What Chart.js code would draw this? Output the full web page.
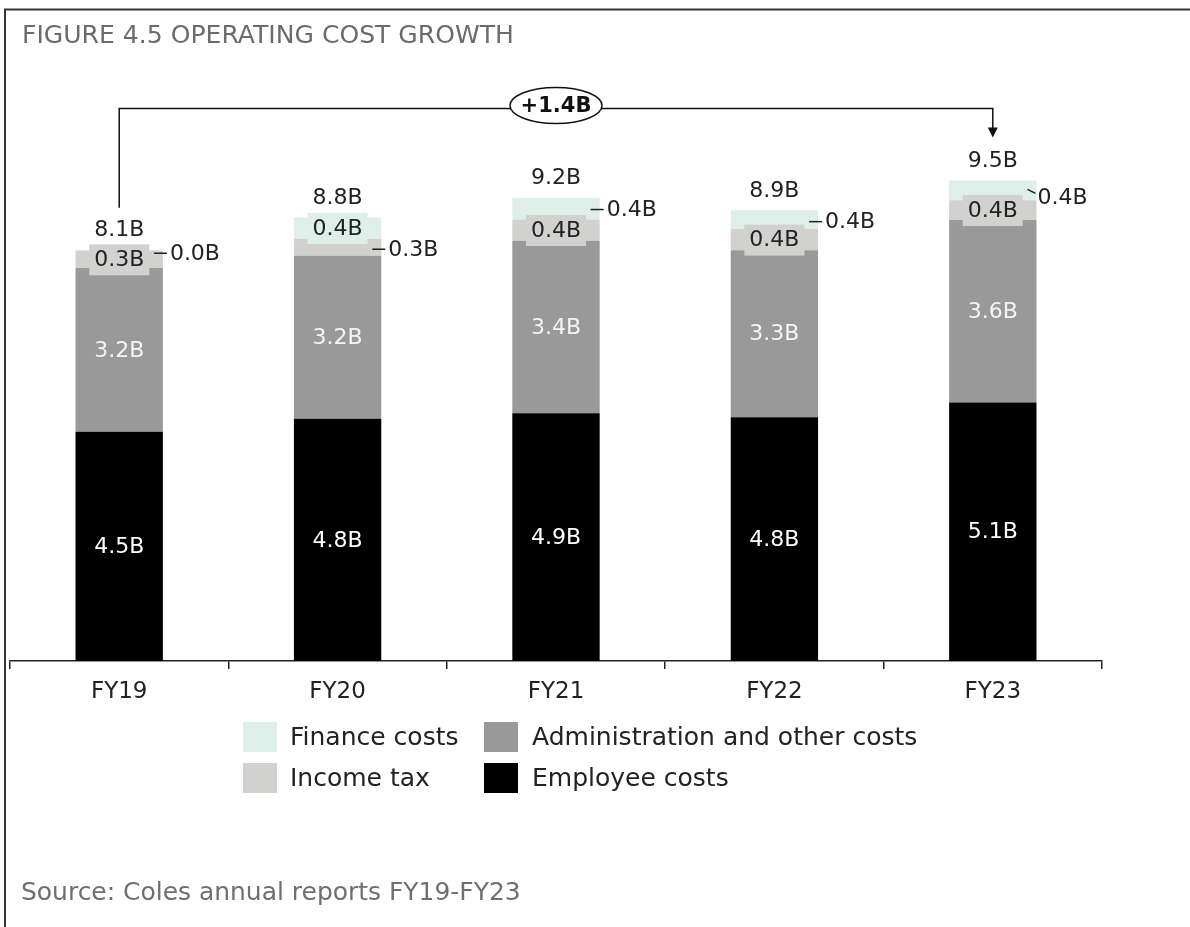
<!DOCTYPE html>
<html><head><meta charset="utf-8">
<script src="https://cdn.jsdelivr.net/npm/chart.js@4.4.0/dist/chart.umd.min.js"></script>
<style>html,body{margin:0;padding:0;background:#fff;overflow:hidden}#wrap{width:1190px;height:927px}</style>
</head><body><div id="wrap"><canvas id="c" width="1190" height="927"></canvas></div>
<script>
// ---- data ----
const categories = ['FY19', 'FY20', 'FY21', 'FY22', 'FY23'];
const employeeCosts = [4.53, 4.79, 4.90, 4.82, 5.11];
const adminCosts = [3.24, 3.22, 3.41, 3.30, 3.61];
const incomeTax = [0.34, 0.34, 0.42, 0.42, 0.39];
const financeCosts = [0.02, 0.42, 0.43, 0.37, 0.39];
const seriesNames = ['Employee costs', 'Administration and other costs', 'Income tax', 'Finance costs'];
const titleText = 'FIGURE 4.5 OPERATING COST GROWTH';
const sourceText = 'Source: Coles annual reports FY19-FY23';

// ---- styles ----
const FONT = '"DejaVu Sans", sans-serif';
const colors = ['#000000', '#999999', '#d1d1d0', '#ddefe8'];
const insideTextColors = ['#ffffff', '#f4f4f4', '#222222', '#222222'];
// which small segment labels are placed outside the bar (series index, category index)
const outsideLabels = [
  {s: 3, i: 0, dy: 3}, {s: 2, i: 1, dy: 2}, {s: 3, i: 2, dy: 1},
  {s: 3, i: 3, dy: 2}, {s: 3, i: 4, dy: 7, slant: true}
];

const fmt = v => (Math.round(v * 10) / 10).toFixed(1) + 'B';
const totals = categories.map((_, i) => employeeCosts[i] + adminCosts[i] + incomeTax[i] + financeCosts[i]);

function fitFont(ctx, text, target, weight) {
  ctx.font = (weight || '') + ' 20px ' + FONT;
  const w = ctx.measureText(text).width;
  return 20 * target / w;
}

const annot = {
  id: 'annot',
  beforeDraw(chart) {
    const ctx = chart.ctx;
    ctx.save();
    ctx.fillStyle = '#fff';
    ctx.fillRect(0, 0, chart.width, chart.height);
    ctx.strokeStyle = '#333';
    ctx.lineWidth = 2;
    ctx.beginPath();
    ctx.moveTo(5, 927); ctx.lineTo(5, 9.5); ctx.lineTo(1190, 9.5);
    ctx.stroke();
    // title
    ctx.fillStyle = '#6b6b6b';
    ctx.textBaseline = 'alphabetic';
    ctx.textAlign = 'left';
    let fs = fitFont(ctx, titleText, 492);
    ctx.font = fs + 'px ' + FONT;
    ctx.fillText(titleText, 22, 43);
    fs = fitFont(ctx, sourceText, 500);
    ctx.font = fs + 'px ' + FONT;
    ctx.fillStyle = '#6f6f6f';
    ctx.fillText(sourceText, 21, 900);
    ctx.restore();
  },
  afterDatasetsDraw(chart) {
    const ctx = chart.ctx;
    const {x, y} = chart.scales;
    ctx.save();
    ctx.font = '22px ' + FONT;
    ctx.textBaseline = 'middle';
    const isOutside = (s, i) => outsideLabels.find(o => o.s === s && o.i === i);
    // inside labels
    chart.data.datasets.forEach((ds, s) => {
      const meta = chart.getDatasetMeta(s);
      meta.data.forEach((el, i) => {
        if (isOutside(s, i)) return;
        const cy = (el.y + el.base) / 2;
        const txt = fmt(ds.data[i]);
        ctx.textAlign = 'center';
        if (s >= 2) {
          const w = ctx.measureText(txt).width;
          ctx.fillStyle = colors[s];
          ctx.fillRect(el.x - w / 2 - 5, cy - 15, w + 10, 31);
        }
        ctx.fillStyle = insideTextColors[s];
        ctx.fillText(txt, el.x, cy + 1);
      });
    });
    // outside labels
    ctx.strokeStyle = '#222';
    ctx.lineWidth = 1.5;
    outsideLabels.forEach(o => {
      const el = chart.getDatasetMeta(o.s).data[o.i];
      const right = el.x + el.width / 2;
      const cy = (el.y + el.base) / 2 + o.dy;
      const txt = fmt(chart.data.datasets[o.s].data[o.i]);
      ctx.beginPath();
      let tx;
      if (o.slant) {
        ctx.moveTo(right - 9, cy - 8); ctx.lineTo(right - 1, cy - 4);
        tx = right + 1;
      } else {
        ctx.moveTo(right - 9, cy); ctx.lineTo(right + 4, cy);
        tx = right + 7;
      }
      ctx.stroke();
      ctx.fillStyle = '#222';
      ctx.textAlign = 'left';
      ctx.fillText(txt, tx, cy + 1);
    });
    // totals
    ctx.textAlign = 'center';
    ctx.fillStyle = '#222';
    totals.forEach((t, i) => {
      const top = y.getPixelForValue(t);
      ctx.fillText(fmt(t), x.getPixelForValue(i), top - 19);
    });
    // bracket
    const last = totals.length - 1;
    const x1 = x.getPixelForValue(0), x2 = x.getPixelForValue(last);
    const topMax = y.getPixelForValue(Math.max(...totals));
    const yb = topMax - 72;
    const firstTop = y.getPixelForValue(totals[0]);
    const tip = y.getPixelForValue(totals[last]) - 43;
    ctx.strokeStyle = '#111';
    ctx.lineWidth = 1.5;
    ctx.beginPath();
    ctx.moveTo(x1, firstTop - 42); ctx.lineTo(x1, yb); ctx.lineTo(x2, yb); ctx.lineTo(x2, tip - 8);
    ctx.stroke();
    ctx.fillStyle = '#111';
    ctx.beginPath();
    ctx.moveTo(x2 - 5, tip - 10); ctx.lineTo(x2 + 5, tip - 10); ctx.lineTo(x2, tip);
    ctx.closePath(); ctx.fill();
    const ex = (x1 + x2) / 2, ey = yb - 3;
    ctx.beginPath();
    ctx.ellipse(ex, ey, 46, 18, 0, 0, Math.PI * 2);
    ctx.fillStyle = '#fff'; ctx.fill();
    ctx.stroke();
    ctx.fillStyle = '#111';
    ctx.font = 'bold 21px ' + FONT;
    ctx.fillText('+' + fmt(totals[last] - totals[0]), ex, ey + 1);
    ctx.restore();
  },
  afterDraw(chart) {
    const ctx = chart.ctx;
    ctx.save();
    const order = [[3, 1], [2, 0]];
    const colX = [243, 484], textX = [290, 532], rowY = [737, 778];
    ctx.font = '25px ' + FONT;
    ctx.textBaseline = 'middle';
    ctx.textAlign = 'left';
    order.forEach((row, r) => row.forEach((s, c) => {
      ctx.fillStyle = colors[s];
      ctx.fillRect(colX[c], rowY[r] - 15, 34, 30);
      ctx.fillStyle = '#222';
      ctx.fillText(chart.data.datasets[s].label, textX[c], rowY[r] + 1);
    }));
    ctx.restore();
  }
};

const chart = new Chart(document.getElementById('c'), {
  type: 'bar',
  data: {
    labels: categories,
    datasets: [
      {label: seriesNames[0], data: employeeCosts, backgroundColor: colors[0]},
      {label: seriesNames[1], data: adminCosts, backgroundColor: colors[1]},
      {label: seriesNames[2], data: incomeTax, backgroundColor: colors[2]},
      {label: seriesNames[3], data: financeCosts, backgroundColor: colors[3]}
    ]
  },
  options: {
    responsive: false,
    animation: false,
    layout: {padding: {left: 10, right: 88, top: 54, bottom: 216}},
    datasets: {bar: {barPercentage: 0.4, categoryPercentage: 1.0}},
    plugins: {legend: {display: false}, tooltip: {enabled: false}, title: {display: false}},
    scales: {
      x: {
        stacked: true,
        grid: {display: true, drawOnChartArea: false, drawTicks: true, tickLength: 8, color: '#222', lineWidth: 1.5, offset: true},
        border: {display: true, color: '#222', width: 1.5},
        ticks: {color: '#222', font: {family: FONT, size: 23}, padding: 9},
        afterFit(s) { s.height = 50; }
      },
      y: {stacked: true, display: false, min: 0, max: 12}
    }
  },
  plugins: [annot]
});
</script>
</body></html>
